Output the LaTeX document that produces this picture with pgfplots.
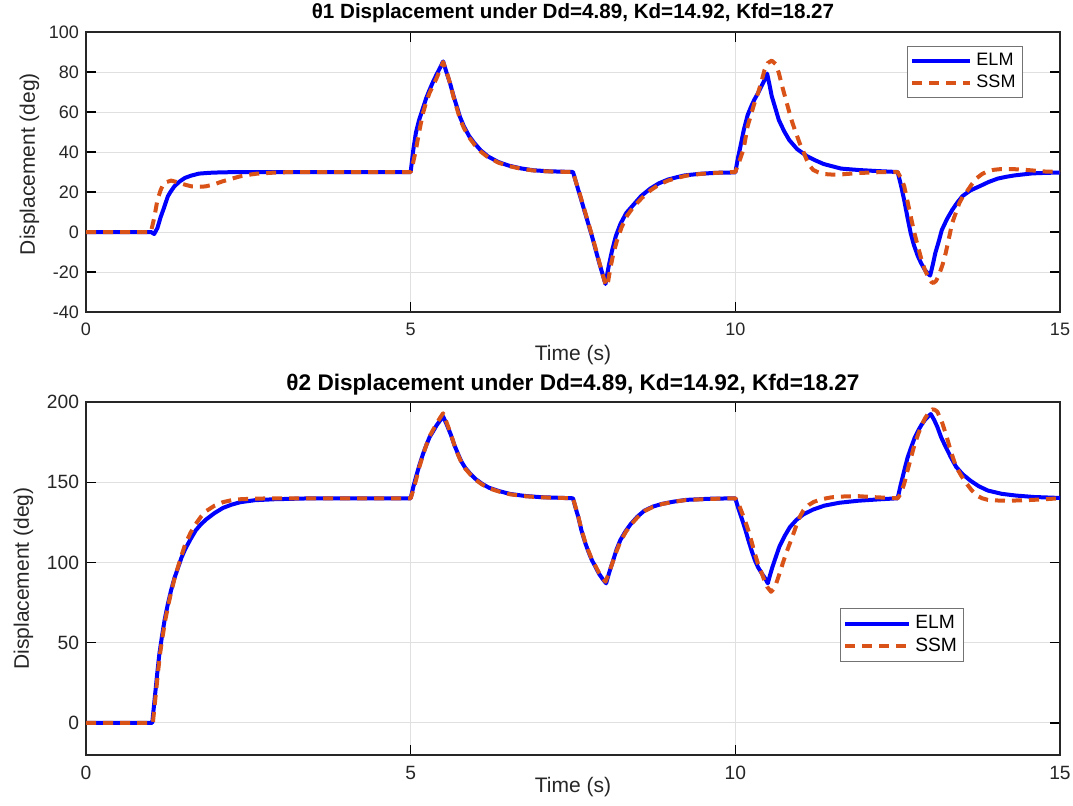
\documentclass[border=0pt]{standalone}
\usepackage{pgfplots}
\pgfplotsset{compat=1.18}
\usepackage{fontspec}
\setmainfont{Liberation Sans}
\definecolor{elm}{rgb}{0,0,1}
\definecolor{ssm}{rgb}{0.85,0.325,0.098}
\definecolor{axc}{rgb}{0.15,0.15,0.15}
\pgfplotsset{
  mystyle/.style={
    scale only axis,
    width=487pt,
    xmin=0, xmax=15,
    xtick={0,5,10,15},
    grid=major,
    major grid style={color=black!12, line width=0.5pt},
    axis line style={color=axc, line width=0.6pt},
    tick style={color=black, line width=0.7pt},
    tick align=inside,
    major tick length=5pt,
    tick label style={font=\fontsize{9}{10}\selectfont, color=axc},
    xticklabel style={yshift=-2pt},
    label style={font=\fontsize{10.5}{12}\selectfont, color=axc},
    xlabel style={yshift=2pt},
    /pgf/number format/assume math mode=true,
    xlabel={Time (s)},
    ylabel={Displacement (deg)},
    legend cell align=left,
    legend style={draw=black!55, line width=0.5pt, font=\fontsize{9}{10}\selectfont, inner sep=1.5pt, row sep=-1pt},
    legend image code/.code={\draw[##1] (0pt,0pt) -- (29pt,0pt);},
  },
  elmline/.style={color=elm, line width=2pt, line join=round},
  ssmline/.style={color=ssm, line width=2pt, dash pattern=on 5pt off 3.5pt, line join=round},
}
\begin{document}
\begin{tikzpicture}
\begin{axis}[mystyle,
  at={(43pt,-16pt)}, anchor=north west, height=140pt,
  ymin=-40, ymax=100, ytick={-40,-20,0,20,40,60,80,100},
  title={θ1 Displacement under Dd=4.89, Kd=14.92, Kfd=18.27},
  title style={font=\bfseries\fontsize{10.3}{11}\selectfont, yshift=-5pt},
  ylabel style={xshift=4pt, yshift=-2pt},
  legend style={at={(0.962,0.95)}, anchor=north east},
]
\addplot[elmline] coordinates {
(0,0) (1.0,0) (1.05,-1) (1.1,2) (1.15,7.5) (1.2,12) (1.26,17.8) (1.3,20) (1.36,22.8) (1.44,25.2) (1.52,27) (1.62,28.2) (1.74,29.2) (1.9,29.6) (2.1,29.85) (2.5,30) (5.0,30)
(5.04,41) (5.08,49.5) (5.13,56) (5.19,62) (5.24,67) (5.29,71) (5.35,75.5) (5.4,78.8) (5.45,82) (5.5,85.3)
(5.55,80) (5.61,74) (5.66,68) (5.71,62.8) (5.76,57.5) (5.82,52.8) (5.9,48) (5.98,44.5) (6.08,40.8) (6.19,37.8) (6.35,35) (6.51,33.2) (6.7,31.8) (6.88,30.9) (7.1,30.4) (7.5,30)
(7.55,24.5) (7.6,19) (7.65,13.5) (7.7,8) (7.75,2.5) (7.8,-3) (7.85,-9) (7.9,-15) (7.95,-20.5) (8.0,-26)
(8.05,-17) (8.1,-9.5) (8.16,-2) (8.23,4) (8.32,9.5) (8.42,13.2) (8.55,18) (8.69,21.7) (8.82,24.3) (8.96,26.2) (9.1,27.4) (9.22,28.3) (9.45,29.1) (9.7,29.6) (10.0,29.8)
(10.04,37) (10.08,43) (10.13,51) (10.19,58.5) (10.24,62.5) (10.29,66) (10.35,69.5) (10.4,72.8) (10.45,76) (10.49,79.2)
(10.53,73) (10.56,68) (10.62,61.5) (10.67,56) (10.75,50.5) (10.83,46) (10.95,41.5) (11.1,38) (11.22,36) (11.36,34) (11.5,32.8) (11.63,31.7) (11.9,31) (12.17,30.5) (12.5,30)
(12.55,23.5) (12.6,16) (12.65,7.5) (12.7,-0.5) (12.75,-6.5) (12.81,-12) (12.86,-15.5) (12.92,-19) (12.96,-20.5) (13.0,-21.8)
(13.04,-16.5) (13.08,-10.5) (13.13,-5) (13.18,1) (13.26,6.5) (13.34,11) (13.42,14.8) (13.5,18) (13.62,20.8) (13.77,23) (13.9,25) (14.04,26.7) (14.17,27.6) (14.3,28.3) (14.57,29.3) (14.8,29.6) (15.0,29.7)
};
\addlegendentry{ELM}
\addplot[ssmline] coordinates {
(0,0) (1.0,0) (1.05,7) (1.1,16) (1.15,21) (1.2,24.5) (1.31,25.7) (1.42,24.8) (1.52,23.7) (1.63,22.8) (1.74,22.6) (1.84,22.8) (1.97,23.8) (2.1,25.3) (2.24,26.6) (2.37,27.8) (2.5,28.6) (2.64,29.2) (2.9,29.7) (3.17,30) (5.0,30)
(5.04,35) (5.08,41) (5.13,50) (5.19,59.5) (5.24,65) (5.29,69.5) (5.35,73.5) (5.4,77) (5.45,81) (5.5,85)
(5.55,80.5) (5.61,74) (5.66,67.5) (5.71,62) (5.76,56.5) (5.82,52) (5.9,47.3) (5.98,43.8) (6.08,40.2) (6.19,37.4) (6.35,34.7) (6.51,33) (6.7,31.6) (6.88,30.8) (7.1,30.3) (7.5,30)
(7.55,24.5) (7.6,19.5) (7.65,14) (7.7,8.5) (7.75,3) (7.8,-2.5) (7.85,-8.5) (7.9,-14.5) (7.95,-20.5) (8.0,-26) (8.03,-27)
(8.07,-19) (8.12,-11) (8.18,-4) (8.25,2.5) (8.33,8) (8.43,12.5) (8.56,17) (8.7,21) (8.83,23.8) (8.97,25.8) (9.12,27.2) (9.25,28.2) (9.48,29.1) (9.72,29.6) (10.0,30)
(10.04,33.5) (10.08,37) (10.13,42) (10.19,53) (10.24,58.5) (10.29,64) (10.35,69.5) (10.4,75) (10.45,81) (10.5,84.5) (10.56,85.7)
(10.62,84) (10.67,79.5) (10.72,73) (10.78,66) (10.83,60) (10.88,54.5) (10.94,49) (10.99,44.5) (11.05,40) (11.1,36) (11.15,33) (11.2,31) (11.28,29.8) (11.36,29) (11.5,28.7) (11.63,28.8) (11.9,29.5) (12.2,29.9) (12.5,30)
(12.55,27) (12.6,23) (12.65,15.5) (12.7,8) (12.75,0.5) (12.81,-7) (12.86,-13) (12.92,-19) (12.97,-22.5) (13.02,-25) (13.05,-25.5)
(13.09,-24.5) (13.13,-22) (13.19,-16.5) (13.24,-10.5) (13.29,-3) (13.34,4.5) (13.4,10) (13.45,14.5) (13.5,17.5) (13.56,20) (13.64,23.8) (13.72,27) (13.8,29) (13.88,30.3) (13.98,31.1) (14.1,31.5) (14.25,31.5) (14.41,31.2) (14.57,30.8) (14.73,30.3) (15.0,30)
};
\addlegendentry{SSM}
\end{axis}
\begin{axis}[mystyle,
  at={(43pt,-201pt)}, anchor=north west, height=176.5pt,
  ymin=-20, ymax=200, ytick={0,50,100,150,200},
  title={θ2 Displacement under Dd=4.89, Kd=14.92, Kfd=18.27},
  title style={font=\bfseries\fontsize{11.3}{12}\selectfont, yshift=-6pt},
  tick label style={font=\fontsize{9.6}{10}\selectfont},
  xlabel style={yshift=6pt},
  legend style={at={(0.774,0.416)}, anchor=north west, font=\fontsize{9.6}{10}\selectfont},
  legend image code/.code={\draw[#1] (0pt,0pt) -- (32pt,0pt);},
]
\addplot[elmline] coordinates {
(0,0) (1.0,0) (1.02,0) (1.045,10) (1.07,20) (1.1,32) (1.13,43) (1.17,54) (1.21,64) (1.26,74) (1.31,82.6) (1.36,90) (1.42,97) (1.47,103) (1.53,108.5) (1.61,114.5) (1.69,120) (1.77,123.8) (1.85,126.8) (1.98,130.8) (2.11,134) (2.24,136) (2.38,137.6) (2.6,138.8) (2.9,139.4) (3.4,139.9) (5.0,140)
(5.04,147) (5.08,153) (5.13,160) (5.19,167.6) (5.24,173) (5.29,178) (5.35,182) (5.4,185.5) (5.45,188.3) (5.5,191)
(5.56,185.5) (5.62,179.5) (5.67,173.5) (5.73,167.6) (5.78,163) (5.84,159) (5.92,155.2) (6.0,152) (6.1,149) (6.21,146.5) (6.36,144.5) (6.53,142.7) (6.75,141.5) (7.0,140.7) (7.5,140)
(7.54,134) (7.58,128.5) (7.63,120) (7.69,112) (7.74,106.5) (7.79,101.5) (7.85,97) (7.9,93) (7.96,89.5) (8.01,87)
(8.06,94) (8.12,101.5) (8.17,108) (8.23,114) (8.31,119.5) (8.39,124) (8.49,128.5) (8.6,132.3) (8.73,134.8) (8.87,136.5) (9.05,137.9) (9.24,139) (9.6,139.7) (10.0,140)
(10.04,134.5) (10.09,128.5) (10.15,121) (10.2,114) (10.25,107.5) (10.3,101.5) (10.35,97) (10.41,93) (10.46,90) (10.5,87)
(10.53,91.5) (10.57,97) (10.62,103) (10.68,110) (10.76,116.5) (10.84,122) (10.94,126.5) (11.05,130) (11.2,133) (11.37,135.4) (11.6,137.2) (11.9,138.5) (12.2,139.3) (12.5,140)
(12.55,149) (12.6,157) (12.65,165) (12.71,172) (12.76,177.5) (12.82,182.5) (12.87,186) (12.92,188.8) (12.97,191) (13.01,192.5)
(13.06,189) (13.11,184.6) (13.17,178) (13.24,172) (13.32,165.5) (13.4,159.6) (13.5,155) (13.62,151) (13.75,147.5) (13.89,144.8) (14.1,142.8) (14.32,141.7) (14.6,140.8) (15.0,140.2)
};
\addlegendentry{ELM}
\addplot[ssmline] coordinates {
(0,0) (1.0,0) (1.03,0) (1.055,10) (1.08,20) (1.11,32) (1.14,43) (1.18,54) (1.22,64) (1.27,74) (1.32,83) (1.37,91) (1.43,99) (1.48,105.5) (1.53,111.6) (1.61,118.5) (1.69,124) (1.77,128.5) (1.85,132) (1.98,135.4) (2.11,137.6) (2.24,138.8) (2.38,139.4) (2.6,139.8) (3.0,140) (5.0,140)
(5.04,145) (5.08,151) (5.13,159) (5.19,167) (5.24,173) (5.29,178.5) (5.35,183) (5.4,186.5) (5.45,190) (5.5,193)
(5.56,186.5) (5.62,180) (5.67,173.5) (5.73,167) (5.78,162.5) (5.84,158.5) (5.92,154.8) (6.0,151.5) (6.1,148.6) (6.21,146.2) (6.36,144.2) (6.53,142.5) (6.75,141.3) (7.0,140.6) (7.5,140)
(7.54,134.5) (7.58,129) (7.63,120.5) (7.69,112.5) (7.74,107) (7.79,102) (7.85,97.5) (7.9,93.5) (7.96,90) (8.0,88)
(8.05,93) (8.11,100) (8.17,107) (8.23,113) (8.31,118.8) (8.39,123.5) (8.49,128) (8.6,132) (8.73,134.6) (8.87,136.4) (9.05,137.8) (9.24,138.9) (9.6,139.6) (10.0,140)
(10.04,137.5) (10.09,132.3) (10.15,126) (10.2,120) (10.25,113) (10.3,105.6) (10.35,99) (10.41,93) (10.45,88.5) (10.49,84.8) (10.55,81.7)
(10.59,83.5) (10.63,87) (10.68,93) (10.73,99.4) (10.78,105.5) (10.84,111.9) (10.9,118.5) (10.95,124.3) (11.0,129) (11.05,132.6) (11.13,135.8) (11.21,137.8) (11.34,139.5) (11.48,140.6) (11.7,141.2) (11.9,141.3) (12.18,140.6) (12.5,140)
(12.55,143) (12.6,149) (12.65,157) (12.71,166) (12.76,173.5) (12.82,180.5) (12.87,185.5) (12.92,189.8) (12.98,193.5) (13.03,195.4)
(13.07,195.2) (13.11,194) (13.15,190.5) (13.19,186.6) (13.25,179) (13.3,172) (13.35,165.5) (13.4,159.6) (13.48,154) (13.56,149.2) (13.64,145) (13.72,141.7) (13.8,140) (13.89,139) (14.05,138.6) (14.21,138.5) (14.4,138.7) (14.58,139) (14.8,139.5) (15.0,140)
};
\addlegendentry{SSM}
\end{axis}
\pgfresetboundingbox
\path (0,0) rectangle (536.5pt,-402.5pt);
\end{tikzpicture}
\end{document}
